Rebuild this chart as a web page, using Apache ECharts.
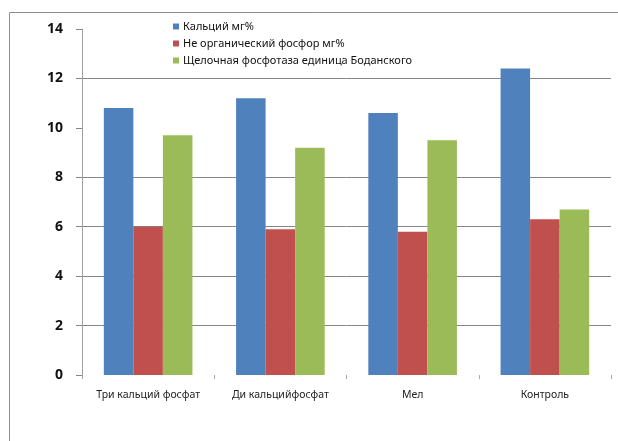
<!DOCTYPE html>
<html>
<head>
<meta charset="utf-8">
<script src="https://cdn.jsdelivr.net/npm/echarts@6/dist/echarts.min.js"></script>
<style>
  html, body { margin: 0; padding: 0; background: #fff; }
  #chart { width: 618px; height: 441px; }
</style>
</head>
<body>
<div id="chart"></div>
<script>
// categories and series
const categories = ['Три кальций фосфат', 'Ди кальцийфосфат', 'Мел', 'Контроль']
const seriesNames = [
  'Кальций мг%',
  'Не органический фосфор мг%',
  'Щелочная фосфотаза единица Боданского',
]
const calcium = [10.8, 11.2, 10.6, 12.4]
const phosphorus = [6.0, 5.9, 5.8, 6.3]
const phosphatase = [9.7, 9.2, 9.5, 6.7]
const yTicks = [0, 2, 4, 6, 8, 10, 12, 14]

const colors = ['#4F81BD', '#C0504D', '#9BBB59']
const gridGray = '#868686'
// gridlines visible in the original only at 2, 4, 6, 8, 12
const gridColors = yTicks.map((v) => (v === 0 || v === 10 || v === 14 ? 'rgba(0,0,0,0)' : gridGray))

const chart = echarts.init(document.getElementById('chart'))

const option = {
  animation: false,
  backgroundColor: '#fff',
  textStyle: { fontFamily: '"Noto Sans", "Liberation Sans", sans-serif' },
  graphic: [
    {
      type: 'rect',
      shape: { x: 9.5, y: 12.5, width: 700, height: 500 },
      style: { fill: 'none', stroke: '#8c8c8c', lineWidth: 1 },
      z: -1,
    },
  ],
  legend: {
    orient: 'vertical',
    left: 168,
    top: 16,
    itemWidth: 6,
    itemHeight: 6,
    itemGap: 6,
    icon: 'rect',
    textStyle: { fontSize: 11, color: '#111', padding: [0, 0, 0, -1] },
    data: seriesNames,
  },
  grid: { left: 82, right: 7, top: 29, bottom: 66 },
  xAxis: {
    type: 'category',
    data: categories,
    axisLine: { show: false },
    axisTick: { show: true, length: 4, lineStyle: { color: '#aaa' } },
    axisLabel: { color: '#222', fontSize: 10.5, margin: 15, interval: 0 },
  },
  yAxis: {
    type: 'value',
    min: yTicks[0],
    max: yTicks[yTicks.length - 1],
    interval: 2,
    axisLine: { show: true, lineStyle: { color: '#a0a0a0' } },
    axisTick: { show: true, length: 6, lineStyle: { color: gridGray } },
    axisLabel: { color: '#111', fontSize: 14, fontWeight: 'bold', margin: 19 },
    splitLine: { show: true, lineStyle: { color: gridColors, width: 1 } },
  },
  series: [
    { name: seriesNames[0], type: 'bar', data: calcium, itemStyle: { color: colors[0] }, barGap: '0%', barCategoryGap: '33%' },
    { name: seriesNames[1], type: 'bar', data: phosphorus, itemStyle: { color: colors[1] }, barGap: '0%', barCategoryGap: '33%' },
    { name: seriesNames[2], type: 'bar', data: phosphatase, itemStyle: { color: colors[2] }, barGap: '0%', barCategoryGap: '33%' },
  ],
}

chart.setOption(option)
</script>
</body>
</html>
